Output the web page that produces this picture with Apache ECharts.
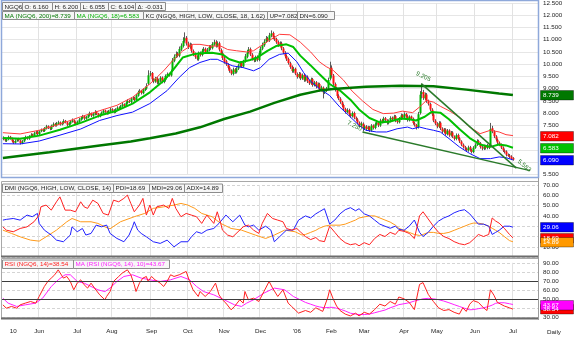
<!DOCTYPE html>
<html><head><meta charset="utf-8">
<script src="https://cdn.jsdelivr.net/npm/echarts/dist/echarts.min.js"></script>
<style>html,body{margin:0;padding:0;background:#fff}#c{width:575px;height:339px}</style>
</head><body><div id="c"></div>
<script>
// ---------------- DATA ----------------
const symbol = 'NGQ6';
const startDay = '2005-05-02', endDay = '2006-07-24';
const holidays = ['2005-05-30','2005-07-04','2005-09-05','2005-11-24','2005-12-26','2006-01-02','2006-01-16','2006-02-20','2006-04-14','2006-05-29','2006-07-04'];
const labelDates = ['2005-05-10','2005-06-01','2005-07-01','2005-08-01','2005-09-01','2005-10-03','2005-11-01','2005-12-01','2006-01-03','2006-02-01','2006-03-01','2006-04-03','2006-05-01','2006-06-01','2006-07-03'];
const labelTexts = ['10','Jun','Jul','Aug','Sep','Oct','Nov','Dec',"'06",'Feb','Mar','Apr','May','Jun','Jul'];

const open = [
6.98,6.94,6.87,6.93,7.03,6.96,6.86,6.79,6.87,6.95,
6.88,6.77,6.85,6.94,7.02,6.95,7.06,7.13,7.07,7.17,
7.24,7.14,7.26,7.33,7.27,7.37,7.46,7.41,7.35,7.47,
7.57,7.49,7.57,7.63,7.54,7.59,7.69,7.62,7.51,7.57,
7.65,7.71,7.63,7.56,7.64,7.73,7.79,7.87,7.77,7.83,
7.91,7.99,7.89,7.95,8.06,7.98,7.87,7.92,8.01,8.11,
8.07,7.99,8.07,8.16,8.13,8.04,8.13,8.23,8.17,8.27,
8.36,8.29,8.41,8.51,8.45,8.57,8.63,8.54,8.71,8.84,
8.91,8.81,8.94,9.01,9.20,9.58,9.64,9.37,9.29,9.43,
9.24,9.32,9.46,9.27,9.35,9.51,9.61,9.54,9.72,10.14,
10.31,10.44,10.34,10.60,10.74,10.97,11.08,10.84,10.69,10.80,
10.54,10.41,10.31,10.20,10.46,10.37,10.54,10.63,10.49,10.57,
10.72,10.65,10.81,10.92,10.74,10.86,10.58,10.46,10.24,10.12,
9.98,9.86,9.73,9.60,9.79,9.67,9.81,9.94,10.06,9.91,
10.12,10.30,10.49,10.62,10.39,10.21,10.14,10.30,10.17,10.44,
10.63,10.77,10.93,11.06,10.97,11.17,11.27,11.09,11.03,10.91,
10.77,10.86,10.64,10.47,10.33,10.21,10.04,9.89,9.71,9.81,
9.60,9.47,9.61,9.41,9.56,9.34,9.49,9.31,9.21,9.39,
9.14,9.26,9.07,9.19,8.94,9.04,8.84,8.91,9.02,9.40,
9.85,9.54,9.19,8.94,8.71,8.59,8.44,8.33,8.17,8.04,
8.13,7.94,7.87,8.01,7.81,7.74,7.61,7.49,7.57,7.37,
7.46,7.34,7.43,7.29,7.49,7.39,7.54,7.63,7.49,7.71,
7.64,7.79,7.71,7.59,7.67,7.81,7.74,7.87,7.69,7.63,
7.77,7.91,7.81,7.96,7.87,7.71,7.86,7.77,7.59,7.51,
7.42,8.00,8.78,8.86,8.60,8.76,8.49,8.37,8.14,7.94,
7.69,7.57,7.44,7.61,7.37,7.24,7.33,7.14,7.29,7.09,
7.21,7.04,6.94,7.11,6.97,6.84,6.71,6.61,6.54,6.47,
6.61,6.49,6.41,6.59,6.71,6.86,6.77,6.61,6.54,6.66,
6.57,6.69,6.70,7.38,7.24,7.04,6.91,6.79,6.71,6.59,
6.47,6.43,6.29,6.27,6.23,6.16];
const high = [
7.05,6.99,6.97,7.08,7.07,7.00,6.90,6.93,6.98,6.99,
6.91,6.90,6.99,7.08,7.05,7.10,7.18,7.16,7.24,7.28,
7.27,7.30,7.37,7.36,7.43,7.52,7.50,7.44,7.53,7.62,
7.60,7.64,7.69,7.66,7.65,7.75,7.72,7.65,7.63,7.71,
7.78,7.74,7.66,7.70,7.80,7.86,7.93,7.90,7.89,7.97,
8.06,8.02,8.01,8.12,8.09,8.01,7.98,8.07,8.17,8.14,
8.10,8.13,8.22,8.20,8.16,8.20,8.28,8.27,8.34,8.42,
8.40,8.48,8.57,8.55,8.64,8.70,8.67,8.79,8.92,8.98,
8.95,9.02,9.08,9.22,9.75,9.72,9.68,9.42,9.48,9.47,
9.39,9.51,9.50,9.42,9.58,9.66,9.65,9.78,10.25,10.40,
10.52,10.50,10.72,10.85,11.10,11.30,11.15,10.92,10.88,10.85,
10.60,10.48,10.36,10.52,10.52,10.63,10.70,10.68,10.66,10.78,
10.78,10.90,11.00,10.98,10.93,10.92,10.64,10.52,10.30,10.18,
10.04,9.92,9.79,9.86,9.84,9.88,10.02,10.12,10.11,10.18,
10.42,10.58,10.70,10.68,10.45,10.27,10.35,10.36,10.54,10.72,
10.88,11.02,11.15,11.12,11.28,11.38,11.33,11.16,11.08,10.97,
10.93,10.92,10.70,10.53,10.39,10.27,10.10,9.95,9.88,9.86,
9.66,9.68,9.66,9.62,9.61,9.55,9.54,9.36,9.45,9.44,
9.32,9.31,9.25,9.24,9.12,9.09,8.98,9.07,9.45,10.10,
9.95,9.60,9.25,9.00,8.77,8.65,8.50,8.38,8.22,8.20,
8.18,7.99,8.07,8.06,7.86,7.79,7.66,7.65,7.62,7.52,
7.51,7.48,7.47,7.55,7.54,7.62,7.69,7.67,7.77,7.76,
7.85,7.84,7.75,7.74,7.87,7.86,7.93,7.92,7.74,7.84,
7.98,7.96,8.03,8.01,7.92,7.91,7.90,7.82,7.64,7.56,
8.05,8.90,9.205,8.95,8.84,8.82,8.55,8.43,8.20,8.00,
7.75,7.63,7.67,7.66,7.42,7.39,7.38,7.35,7.34,7.27,
7.26,7.09,7.17,7.16,7.02,6.89,6.76,6.66,6.59,6.67,
6.66,6.54,6.65,6.77,6.93,6.91,6.82,6.66,6.71,6.70,
6.74,6.73,7.60,7.48,7.30,7.10,6.96,6.84,6.76,6.64,
6.52,6.48,6.35,6.33,6.28,6.20];
const low = [
6.89,6.83,6.82,6.89,6.92,6.80,6.74,6.75,6.83,6.84,
6.72,6.73,6.81,6.90,6.91,6.91,7.02,7.03,7.03,7.13,
7.09,7.10,7.22,7.23,7.23,7.33,7.35,7.30,7.31,7.43,
7.45,7.45,7.53,7.49,7.50,7.55,7.58,7.46,7.47,7.53,
7.61,7.57,7.51,7.52,7.60,7.69,7.75,7.72,7.73,7.79,
7.87,7.84,7.85,7.91,7.92,7.82,7.83,7.88,7.97,8.01,
7.94,7.95,8.03,8.07,7.99,8.00,8.09,8.13,8.13,8.23,
8.24,8.25,8.37,8.41,8.41,8.53,8.49,8.50,8.67,8.80,
8.76,8.77,8.90,8.96,9.15,9.50,9.30,9.22,9.24,9.18,
9.19,9.27,9.22,9.22,9.30,9.46,9.49,9.49,9.68,10.08,
10.25,10.28,10.28,10.54,10.68,10.88,10.76,10.62,10.63,10.47,
10.33,10.22,10.15,10.14,10.31,10.32,10.48,10.43,10.44,10.52,
10.59,10.60,10.75,10.68,10.69,10.52,10.38,10.17,10.02,9.93,
9.78,9.65,9.55,9.54,9.61,9.62,9.76,9.88,9.85,9.86,
10.06,10.24,10.43,10.33,10.15,10.08,10.09,10.11,10.12,10.38,
10.57,10.71,10.87,10.91,10.91,11.10,11.02,10.95,10.83,10.71,
10.72,10.57,10.41,10.25,10.13,9.98,9.81,9.65,9.65,9.55,
9.41,9.42,9.35,9.36,9.28,9.29,9.23,9.15,9.16,9.08,
9.09,9.01,9.02,8.88,8.89,8.60,8.78,8.86,8.97,9.34,
9.45,9.12,8.88,8.62,8.53,8.38,8.25,8.11,7.98,7.99,
7.88,7.81,7.82,7.75,7.68,7.55,7.43,7.44,7.25,7.31,
7.28,7.29,7.23,7.24,7.33,7.34,7.49,7.43,7.44,7.58,
7.59,7.65,7.53,7.54,7.62,7.68,7.69,7.63,7.57,7.58,
7.72,7.75,7.76,7.81,7.65,7.66,7.71,7.53,7.45,7.33,
7.37,7.94,8.60,8.54,8.54,8.42,8.31,8.08,7.88,7.63,
7.51,7.38,7.39,7.31,7.18,7.19,7.08,7.09,7.03,7.04,
6.98,6.88,6.89,6.91,6.78,6.65,6.55,6.48,6.41,6.42,
6.43,6.35,6.36,6.54,6.66,6.71,6.55,6.48,6.49,6.51,
6.52,6.53,6.65,7.18,6.98,6.85,6.73,6.65,6.53,6.41,
6.35,6.23,6.22,6.15,6.08,6.055];
const close = [
6.95,6.88,6.92,7.02,6.97,6.85,6.80,6.86,6.93,6.89,
6.78,6.84,6.95,7.01,6.96,7.05,7.12,7.08,7.18,7.22,
7.15,7.25,7.31,7.28,7.38,7.45,7.40,7.36,7.48,7.55,
7.50,7.58,7.62,7.55,7.60,7.68,7.63,7.52,7.58,7.66,
7.70,7.62,7.57,7.65,7.74,7.80,7.86,7.78,7.84,7.92,
7.98,7.90,7.96,8.05,7.97,7.88,7.93,8.02,8.10,8.06,
8.00,8.08,8.15,8.12,8.05,8.14,8.22,8.18,8.28,8.35,
8.30,8.42,8.50,8.46,8.58,8.62,8.55,8.72,8.85,8.90,
8.82,8.95,9.02,9.10,9.55,9.62,9.38,9.30,9.42,9.25,
9.33,9.45,9.28,9.36,9.52,9.60,9.55,9.70,10.15,10.30,
10.42,10.35,10.62,10.75,10.95,11.05,10.85,10.70,10.78,10.55,
10.40,10.30,10.22,10.45,10.38,10.55,10.62,10.50,10.58,10.70,
10.66,10.82,10.90,10.75,10.85,10.60,10.45,10.25,10.10,10.00,
9.85,9.72,9.62,9.78,9.68,9.80,9.95,10.05,9.92,10.10,
10.32,10.48,10.60,10.40,10.22,10.15,10.28,10.18,10.45,10.62,
10.78,10.92,11.05,10.98,11.18,11.25,11.10,11.02,10.90,10.78,
10.85,10.65,10.48,10.32,10.20,10.05,9.88,9.72,9.80,9.62,
9.48,9.60,9.42,9.55,9.35,9.48,9.30,9.22,9.38,9.15,
9.25,9.08,9.18,8.95,9.05,8.85,8.92,9.00,9.35,9.82,
9.55,9.20,8.95,8.70,8.60,8.45,8.32,8.18,8.05,8.12,
7.95,7.88,8.00,7.82,7.75,7.62,7.50,7.58,7.38,7.45,
7.35,7.42,7.30,7.48,7.40,7.55,7.62,7.50,7.70,7.65,
7.78,7.72,7.60,7.68,7.80,7.75,7.86,7.70,7.64,7.78,
7.90,7.82,7.95,7.88,7.72,7.85,7.78,7.60,7.52,7.40,
7.95,8.75,8.85,8.62,8.75,8.50,8.38,8.15,7.95,7.70,
7.58,7.45,7.60,7.38,7.25,7.32,7.15,7.28,7.10,7.20,
7.05,6.95,7.10,6.98,6.85,6.72,6.62,6.55,6.48,6.60,
6.50,6.42,6.58,6.70,6.85,6.78,6.62,6.55,6.65,6.58,
6.68,6.60,7.35,7.25,7.05,6.92,6.80,6.72,6.60,6.48,
6.42,6.30,6.28,6.22,6.135,6.104];

// indicator readings: [trading-day index, value]
const ma200 = [[0,6.17],[27,6.40],[56,6.68],[74,6.84],[85,6.97],[100,7.17],[114,7.42],[128,7.76],[143,8.06],[157,8.42],[172,8.75],[183,8.92],[191,8.99],[210,9.08],[230,9.12],[249,9.10],[268,8.96],[287,8.80],[295,8.739]];
const ma18 = [[0,6.98],[10,6.95],[21,7.08],[33,7.32],[45,7.60],[56,7.90],[66,8.10],[75,8.39],[85,8.85],[93,9.32],[98,9.73],[104,10.27],[110,10.40],[114,10.45],[121,10.47],[127,10.40],[131,10.20],[137,10.07],[143,10.17],[147,10.27],[153,10.54],[158,10.74],[164,10.81],[168,10.70],[172,10.35],[178,9.95],[183,9.60],[189,9.19],[195,8.92],[201,8.55],[206,8.15],[212,7.80],[218,7.62],[224,7.66],[230,7.78],[235,7.75],[239,7.70],[244,7.85],[248,8.05],[253,8.02],[258,7.75],[264,7.35],[270,6.98],[276,6.72],[282,6.62],[287,6.72],[291,6.68],[295,6.583]];
const kcUp = [[0,7.20],[10,7.15],[21,7.30],[33,7.55],[45,7.85],[56,8.10],[66,8.32],[75,8.65],[85,9.19],[93,9.73],[98,10.13],[104,10.54],[110,10.81],[114,10.81],[120,10.74],[126,10.74],[130,10.60],[135,10.55],[141,10.50],[145,10.55],[149,10.74],[155,11.01],[160,11.22],[166,11.20],[172,10.90],[178,10.50],[183,10.10],[187,9.90],[191,9.75],[197,9.35],[202,8.90],[208,8.50],[214,8.15],[220,7.98],[226,8.00],[231,8.08],[237,8.02],[241,8.25],[245,8.52],[249,8.45],[253,8.28],[258,8.10],[264,7.84],[270,7.43],[276,7.16],[282,7.30],[287,7.23],[291,7.12],[295,7.082]];
const kcDn = [[0,6.75],[10,6.74],[21,6.86],[33,7.10],[45,7.35],[56,7.70],[66,7.90],[75,8.04],[85,8.39],[95,8.92],[102,9.46],[108,9.86],[114,10.07],[120,10.20],[124,10.20],[128,10.07],[133,9.93],[139,9.86],[145,9.73],[149,9.86],[154,10.20],[160,10.40],[165,10.45],[170,10.10],[174,9.65],[178,9.30],[183,9.00],[189,8.72],[195,8.24],[201,7.84],[206,7.50],[210,7.30],[216,7.23],[222,7.23],[228,7.36],[234,7.43],[237,7.36],[241,7.43],[245,7.36],[249,7.30],[253,7.23],[258,6.96],[264,6.62],[270,6.35],[276,6.14],[282,6.14],[287,6.21],[291,6.18],[295,6.09]];
const trendA = [[208,7.23],[305,5.65]];
const trendB = [[242,9.205],[297,5.75]];
const trendText = ['7.230','9.205','5.583'];

const pdi = [[0,29.4],[2,26.2],[6,24.6],[10,27.8],[14,29.4],[18,34.3],[21,40.8],[22,48.8],[25,50.5],[28,45.6],[31,53.7],[33,58.5],[36,45.6],[39,45.6],[42,44],[45,53.7],[47,48.8],[49,47.3],[52,55.3],[55,52.1],[58,42.4],[61,40.8],[64,55.3],[67,53.7],[70,57],[72,60.2],[74,52.1],[76,44],[79,50.5],[81,57],[83,40.8],[85,50.5],[87,40.8],[89,48.8],[93,50.5],[96,47.3],[98,57],[100,47.3],[101,45.6],[103,39.2],[106,42.4],[109,40.8],[112,39.2],[115,32.7],[118,40.8],[122,32.7],[124,44],[126,32.7],[127,26.2],[130,21.4],[133,19.7],[136,24.6],[139,29.4],[142,31.1],[145,26.2],[148,23],[150,32.7],[153,42.4],[156,37.5],[159,35.9],[162,34.3],[164,27.8],[167,26.2],[170,27.8],[172,24.6],[175,20],[178,17],[181,19],[183,16],[186,15],[189,30],[192,24],[195,18],[198,14],[201,12],[204,13],[206,11],[209,14],[212,12],[215,18],[218,22],[221,20],[224,24],[227,22],[229,26],[232,25],[235,23],[238,18],[241,40],[243,44],[246,37],[249,30],[252,24],[255,20],[258,18],[261,15],[264,13],[267,12],[270,14],[272,17],[275,22],[278,20],[281,22],[283,38],[285,35],[287,33],[290,28],[293,22],[295,18.69]];
const mdi = [[0,35.9],[2,36.6],[6,37.5],[10,35.9],[14,40.8],[17,39.2],[20,42.4],[21,32.7],[24,26.2],[28,21.4],[31,16.5],[35,14.9],[39,21.4],[40,29.4],[43,24.6],[46,27.8],[48,21.4],[51,23],[54,31.1],[57,29.4],[60,31.1],[62,23],[66,18.1],[70,14.9],[73,21.4],[75,29.4],[76,34.3],[78,26.2],[80,23],[83,19.7],[87,14.9],[91,13.3],[95,16.5],[99,10],[103,14.9],[107,14.9],[109,19.7],[112,24.6],[115,23],[118,26.2],[122,27.8],[125,32.7],[129,40.8],[131,37.5],[133,34.3],[137,40.8],[140,31.1],[142,29.4],[145,31.1],[148,26.2],[152,30],[155,26.2],[157,14.9],[160,19.7],[164,26.2],[168,26.2],[171,35.9],[175,40],[178,38],[181,42],[183,44],[186,47],[189,32],[192,36],[195,42],[198,46],[201,48],[204,45],[206,47],[209,42],[212,40],[215,36],[218,32],[221,30],[224,28],[227,30],[229,27],[232,26],[235,30],[238,36],[241,24],[243,20],[246,24],[249,30],[252,35],[255,38],[258,40],[261,43],[264,45],[267,46],[270,42],[272,38],[275,32],[278,32],[281,30],[283,22],[285,24],[287,26],[290,30],[293,30],[295,29.06]];
const adx = [[0,26.2],[5,23],[10,19.7],[16,16.5],[21,15.5],[25,19.7],[31,26.2],[37,34.3],[40,37.5],[45,34.3],[51,34.3],[55,32.7],[59,29.4],[62,27.5],[68,34.3],[76,39.2],[82,42.4],[87,47.3],[93,48.8],[99,50.5],[103,52.1],[107,50.5],[111,47.3],[115,42.4],[121,39.2],[126,32.7],[132,27.8],[138,26.2],[146,21.4],[152,18.1],[157,21.4],[163,26.2],[169,24.6],[173,21.4],[175,22],[178,24],[181,26],[183,28],[186,30],[189,31],[195,31],[198,32],[201,34],[204,36],[206,38],[209,39],[212,40],[215,40],[218,38],[221,36],[224,34],[227,31],[229,28],[232,26],[235,24],[238,22],[241,21],[243,22],[246,24],[249,24],[252,23],[255,23],[258,24],[261,26],[264,28],[267,30],[270,32],[272,33],[275,33],[278,32],[281,30],[283,28],[285,26],[287,24],[290,20],[293,16],[295,14.89]];
const rsi = [[0,43.3],[2,39.6],[5,41.5],[8,39.6],[10,43.3],[13,45.2],[16,47],[19,45.2],[21,52.6],[24,63.7],[26,69.3],[28,73],[30,76.7],[32,82.2],[33,84.1],[35,73],[37,74.8],[39,69.3],[41,60],[43,67.4],[45,71.1],[47,65.6],[49,61.9],[51,67.4],[53,61.9],[56,54.4],[59,48.9],[60,52.6],[62,58.1],[64,69.3],[67,74.8],[69,78.5],[72,82.2],[74,76.7],[76,65.6],[77,58.1],[79,67.4],[81,73],[83,74.8],[84,69.3],[86,74.8],[88,71.1],[89,69.3],[91,67.4],[93,63.7],[95,69.3],[97,76.7],[99,74.8],[102,76.7],[104,78.5],[106,80.4],[108,69.3],[110,60],[113,52.6],[114,58.1],[117,52.6],[120,58.1],[123,67.4],[125,54.4],[127,48.9],[129,45.2],[132,37.8],[134,41.5],[137,48.9],[139,45.2],[140,58.1],[142,48.9],[145,50.7],[148,47],[151,58.1],[154,69.3],[156,61.9],[159,52.6],[162,60],[165,45.2],[167,41.5],[168,43.3],[171,34.1],[172,34],[175,37],[178,35],[181,40],[183,38],[185,36],[188,52],[189,60],[191,50],[193,42],[195,37],[198,33],[201,31],[204,34],[206,31],[209,35],[212,33],[215,38],[218,44],[221,42],[224,47],[227,44],[229,52],[232,50],[235,46],[238,38],[241,66],[243,68],[246,55],[249,47],[252,40],[255,37],[258,38],[261,35],[264,33],[266,40],[268,36],[270,44],[272,48],[275,46],[278,40],[280,37],[282,60],[284,54],[286,46],[288,44],[290,42],[293,40],[295,38.54]];
const rsiMa = [[0,50.7],[3,45.2],[8,41.5],[13,43.3],[19,45.2],[23,50.7],[28,63.7],[32,71.1],[36,76.7],[39,76.7],[43,69.3],[47,67.4],[51,63.7],[55,60],[59,58],[62,62],[66,69.3],[70,74.8],[75,76.7],[80,73],[85,71.1],[91,69.3],[97,71.1],[103,74.8],[108,71.1],[112,63.7],[116,58.1],[122,54.4],[128,48.9],[134,43.3],[138,41.5],[141,45.2],[145,48.9],[151,56.3],[157,61.9],[163,60],[168,52.6],[172,48.9],[175,46],[178,44],[181,42],[183,41],[186,40],[189,40.5],[191,40.5],[193,39.5],[195,38.5],[198,36.5],[201,34],[204,33],[206,32.5],[209,32.5],[212,33],[215,34.5],[218,36],[221,37.5],[224,40],[227,42],[229,43.5],[232,44.5],[235,45.6],[238,47.5],[241,49],[243,50],[246,50.5],[249,50],[252,49],[255,47.5],[258,45.6],[261,43.5],[264,41.5],[267,39.5],[270,37.8],[272,38],[275,39],[278,40],[281,41.5],[283,43],[285,45],[287,45.6],[290,45.6],[293,44.5],[295,43.67]];
const rsiLevels = [70, 50];

// ---------------- BUILD ----------------
function buildDays(){
  const out=[]; let t=Date.parse(startDay+'T00:00:00Z'); const e=Date.parse(endDay+'T00:00:00Z');
  while(t<=e){const d=new Date(t);const wd=d.getUTCDay();const s=d.toISOString().slice(0,10);
    if(wd!==0&&wd!==6&&holidays.indexOf(s)<0) out.push(s); t+=86400000;}
  return out;
}
const days = buildDays();
const labelMap = {}; labelDates.forEach((d,k)=>labelMap[d]=labelTexts[k]);
const gridMap = {}; labelDates.forEach((d,k)=>{ if(k>0) gridMap[d]=1; });

const probe='MA (NGQ6, 200)=8.739';
function tw(font){const c=document.createElement('canvas').getContext('2d');c.font=font;return c.measureText(probe+' abcdefghijklmnop').width;}
let FAM="'Liberation Sans', Arial, sans-serif";
if (tw("20px 'Liberation Sans Narrow', monospace")!==tw('20px monospace')) FAM="'Liberation Sans Narrow', 'Liberation Sans', sans-serif";
function tw2(font){const c=document.createElement('canvas').getContext('2d');c.font=font;return c.measureText(probe).width;}
const FS = Math.min(8, Math.round(10*65/tw2('10px '+FAM)*4)/4);
const FONT = FS+'px '+FAM;

const last = a => a[a.length-1][1];
const N = close.length;
const candleData = close.map((c,i)=>[i, open[i], c, low[i], high[i]]);

const chart = echarts.init(document.getElementById('c'), null, {renderer:'canvas'});
const grids = [
  {left:2, width:536, top:1.7, height:172.6},
  {left:2, width:536, top:185, height:72.1},
  {left:2, width:536, top:262.8, height:54}
];
function xAx(gi, showLabel){
  return {type:'category', gridIndex:gi, data:days, boundaryGap:true,
    axisLine:{show:false}, axisTick:{show:false},
    axisLabel:{show:showLabel, interval:(i,v)=>labelMap[v]!==undefined, formatter:v=>labelMap[v]||'',
      fontSize:FS, fontFamily:FAM, color:'#222', margin:11},
    splitLine:{show:true, interval:(i,v)=>gridMap[v]===1, lineStyle:{color:'#e2e2e2', width:1}}};
}
function yAx(gi, min, max, interval, dec, dashed, hideVal){
  return {type:'value', gridIndex:gi, position:'right', min, max, interval,
    axisLine:{show:false}, axisTick:{show:false},
    axisLabel:{margin:5, fontSize:FS, fontFamily:FAM, color:'#222', formatter:v=> (hideVal!==undefined && Math.abs(v-hideVal)<1e-9)?'':v.toFixed(dec)},
    splitLine:{show:true, lineStyle:{color: dashed?'#d4d4d4':'#e6e6e6', type: dashed?[3,2]:'solid', width:1}}};
}
const lineS = (name, data, xi, color, width) => ({name, type:'line', xAxisIndex:xi, yAxisIndex:xi, data, showSymbol:false, symbol:'none', silent:true,
  lineStyle:{color, width}, itemStyle:{color}, z:3});

const option = {
  animation:false,
  grid: grids,
  xAxis:[xAx(0,false), xAx(1,false), xAx(2,true)],
  yAxis:[yAx(0,5.5,12.5,0.5,3,false), yAx(1,0,70,10,2,true,0), yAx(2,30,90,10,2,true)],
  series:[
    {type:'custom', name:'price', xAxisIndex:0, yAxisIndex:0, clip:true, silent:true, z:2,
     data:candleData, encode:{x:0, y:[1,2,3,4]},
     renderItem:function(params, api){
       const i=api.value(0), o=api.value(1), c=api.value(2), l=api.value(3), h=api.value(4);
       const pO=api.coord([i,o]), pC=api.coord([i,c]), pL=api.coord([i,l]), pH=api.coord([i,h]);
       const x=Math.round(pO[0])+0.5;
       const top=Math.min(pO[1],pC[1]), ht=Math.max(1,Math.abs(pO[1]-pC[1]));
       return {type:'group', children:[
         {type:'line', shape:{x1:x,y1:pH[1],x2:x,y2:pL[1]}, style:{stroke:'#5a5a5a', lineWidth:1}},
         {type:'rect', shape:{x:x-1,y:top,width:2,height:ht}, style:{fill: c>=o?'#00b400':'#ff1010'}}
       ]};
     }},
    lineS('KC UP', kcUp, 0, '#ff3a3a', 1),
    lineS('KC DN', kcDn, 0, '#1010ff', 1),
    lineS('MA18', ma18, 0, '#00c000', 2),
    lineS('MA200', ma200, 0, '#007800', 2.5),
    lineS('trendA', trendA, 0, '#2a7a2a', 1.5),
    lineS('trendB', trendB, 0, '#2a7a2a', 1.5),
    lineS('ADX', adx, 1, '#ff9a1a', 1),
    lineS('MDI', mdi, 1, '#2020ff', 1),
    lineS('PDI', pdi, 1, '#ff2020', 1),
    Object.assign(lineS('RSI MA', rsiMa, 2, '#ff20ff', 1), {}),
    Object.assign(lineS('RSI', rsi, 2, '#ff2020', 1), {
      markLine:{silent:true, symbol:'none', label:{show:false}, lineStyle:{color:'#3c3c3c', width:1, type:'solid'},
        data: rsiLevels.map(v=>({yAxis:v}))}})
  ]
};
chart.setOption(option);

// ---------------- GRAPHICS ----------------
const G = [];
function panel(x1,y1,x2,y2,stroke,lw){ G.push({type:'rect', silent:true, z:40, shape:{x:x1,y:y1,width:x2-x1,height:y2-y1}, style:{fill:'none', stroke, lineWidth:lw}}); }
function hline(x1,x2,y,stroke,lw){ G.push({type:'line', silent:true, z:41, shape:{x1,y1:y,x2,y2:y}, style:{stroke, lineWidth:lw}}); }
function vline(x,y1,y2,stroke,lw){ G.push({type:'line', silent:true, z:41, shape:{x1:x,y1,x2:x,y2}, style:{stroke, lineWidth:lw}}); }
function box(x1,x2,y1,y2,text,color){
  G.push({type:'rect', silent:true, z:50, shape:{x:x1+0.5,y:y1+0.5,width:x2-x1,height:y2-y1}, style:{fill:'#f6f6f6', stroke:'#8c8c8c', lineWidth:1}});
  G.push({type:'text', silent:true, z:51, x:x1+2.5, y:(y1+y2)/2+1, style:{text, fill:color, font:FONT, textVerticalAlign:'middle', verticalAlign:'middle'}});
}
function txt(x,y,text,color,rot,align){
  G.push({type:'text', silent:true, z:52, x, y, rotation:rot||0, style:{text, fill:color, font:FONT, textAlign:align||'left', align:align||'left', textVerticalAlign:'middle', verticalAlign:'middle'}});
}
function tag(axis, value, color, dec, textColor){
  const y = chart.convertToPixel({yAxisIndex:axis}, value);
  G.push({type:'rect', silent:true, z:60, shape:{x:540.5,y:Math.round(y-4.75)+0.5,width:33,height:9.5}, style:{fill:color, stroke:'rgba(0,0,0,0.35)', lineWidth:1}});
  G.push({type:'text', silent:true, z:61, x:543, y:Math.round(y-4.75)+5.5, style:{text:value.toFixed(dec), fill:textColor||'#fff', font:FONT, textVerticalAlign:'middle', verticalAlign:'middle'}});
}

// panels
panel(1.5,0.5,538.5,177.5,'#8ea8da',1.5);
panel(1.5,181.5,538.5,256.5,'#a8a8a8',1);
hline(1,539,256.5,'#6c6c6c',2);
panel(1.5,258.5,538.5,318,'#a8a8a8',1);
hline(1,539,318.5,'#6c6c6c',2);
vline(538.5,178,320,'#9c9c9c',1);

// legend rows
const o=open[N-1], h=high[N-1], l=low[N-1], c=close[N-1], dlt=close[N-1]-close[N-2];
box(2,22,2,10,symbol,'#222');
box(22,52,2,10,'O: '+o.toFixed(3),'#222');
box(52,80,2,10,'H: '+h.toFixed(3),'#222');
box(80,108,2,10,'L: '+l.toFixed(3),'#222');
box(108,135,2,10,'C: '+c.toFixed(3),'#222');
box(135,165,2,10,'\u0394: '+dlt.toFixed(3),'#222');
box(2,74,11,19,'MA ('+symbol+', 200)='+last(ma200).toFixed(3),'#007800');
box(74,143,11,19,'MA ('+symbol+', 18)='+last(ma18).toFixed(3),'#00b000');
box(143,267,11,19,'KC ('+symbol+', HIGH, LOW, CLOSE, 18, 1.62)','#222');
box(267,297,11,19,'UP='+last(kcUp).toFixed(3),'#222');
box(297,334,11,19,'DN='+last(kcDn).toFixed(3),'#222');
box(2,113,183.5,192,'DMI ('+symbol+', HIGH, LOW, CLOSE, 14)','#222');
box(113,149,183.5,192,'PDI='+last(pdi).toFixed(2),'#222');
box(149,184,183.5,192,'MDI='+last(mdi).toFixed(2),'#222');
box(184,222,183.5,192,'ADX='+last(adx).toFixed(2),'#222');
box(2,73,259.5,268,'RSI ('+symbol+', 14)='+last(rsi).toFixed(2),'#ff2020');
box(73,169,259.5,268,'MA (RSI ('+symbol+', 14), 10)='+last(rsiMa).toFixed(2),'#ff20ff');

// trendline value labels
const pA = chart.convertToPixel({gridIndex:0}, trendA[0]);
const pB = chart.convertToPixel({gridIndex:0}, trendB[0]);
const pE = chart.convertToPixel({gridIndex:0}, trendA[1]);
txt(pA[0]-8, pA[1]-6, trendText[0], '#2a7a2a', -0.45, 'center');
txt(pB[0]+2, pB[1]-7, trendText[1], '#2a7a2a', -0.45, 'center');
txt(pE[0]-6, pE[1]-5, trendText[2], '#2a7a2a', -0.7, 'center');

// value tags
tag(0, last(ma200), '#007800', 3);
tag(0, last(kcUp), '#ff0000', 3);
tag(0, last(ma18), '#00c000', 3);
tag(0, last(kcDn), '#0000ff', 3);
tag(1, last(mdi), '#0000ff', 2);
tag(1, last(pdi), '#ff0000', 2);
tag(1, last(adx), '#ff9900', 2);
tag(2, last(rsi), '#ff0000', 2);
tag(2, last(rsiMa), '#ff00ff', 2);

txt(547, 332, 'Daily', '#222', 0, 'left');

chart.setOption({graphic:{elements:G}});
</script></body></html>
